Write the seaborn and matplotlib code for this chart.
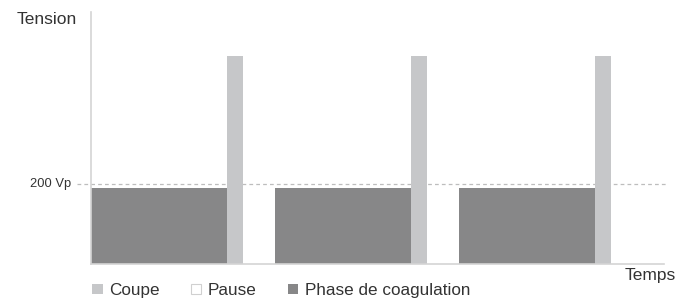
import numpy as np
import pandas as pd
import matplotlib.pyplot as plt
import seaborn as sns
from matplotlib.patches import Patch

sns.set_theme(style="white")
plt.rcParams['font.family'] = ['Liberation Sans', 'DejaVu Sans']

# Sequence of phases (durations in arbitrary time units, levels in Vp)
phases = ['Phase de coagulation', 'Coupe', 'Pause'] * 3
durations = [8.5, 1.0, 2.0] * 3
levels = [190, 520, 0] * 3
threshold = 200
xmax = 35.8
ymax = 630

colors = {'Phase de coagulation': '#878788', 'Coupe': '#c6c7c9', 'Pause': 'white'}

df = pd.DataFrame({'phase': phases, 'duration': durations, 'level': levels})
df['start'] = df['duration'].cumsum() - df['duration']
df = df[df['phase'] != 'Pause']

fig = plt.figure(figsize=(6.77, 3.02), dpi=100)
ax = fig.add_axes([0.1344, 0.1258, 0.8464, 0.8344])

ax.bar(df['start'], df['level'], width=df['duration'], align='edge',
       color=[colors[p] for p in df['phase']], edgecolor='none', zorder=2)

ax.axhline(threshold, xmin=-0.025, xmax=1.0074, color='#bdbdbd', lw=0.9,
           ls=(0, (3, 2.5)), zorder=1, clip_on=False)

ax.set_xlim(0, xmax)
ax.set_ylim(0, ymax)
ax.set_xticks([])
ax.set_yticks([])
for s in ['top', 'right']:
    ax.spines[s].set_visible(False)
for s in ['left', 'bottom']:
    ax.spines[s].set_color('#d4d4d4')
    ax.spines[s].set_linewidth(1.2)

ax.text(-0.035, threshold, '200 Vp', transform=ax.get_yaxis_transform(),
        ha='right', va='center', fontsize=9.3, color='#333333')
fig.text(0.025, 0.935, 'Tension', ha='left', va='center', fontsize=12.5, color='#333333')
fig.text(0.999, 0.088, 'Temps', ha='right', va='center', fontsize=12.5, color='#333333')

handles = [Patch(facecolor=colors['Coupe'], edgecolor='none', label='Coupe'),
           Patch(facecolor='white', edgecolor='#d0d0d0', lw=0.8, label='Pause'),
           Patch(facecolor=colors['Phase de coagulation'], edgecolor='none',
                 label='Phase de coagulation')]
fig.legend(handles=handles, loc='center left', bbox_to_anchor=(0.136, 0.038),
           ncol=3, frameon=False, fontsize=12.3, handlelength=0.63, handleheight=0.6,
           handletextpad=0.38, columnspacing=1.8, labelcolor='#333333', borderaxespad=0,
           borderpad=0)

fig.savefig('out.png', dpi=100)
